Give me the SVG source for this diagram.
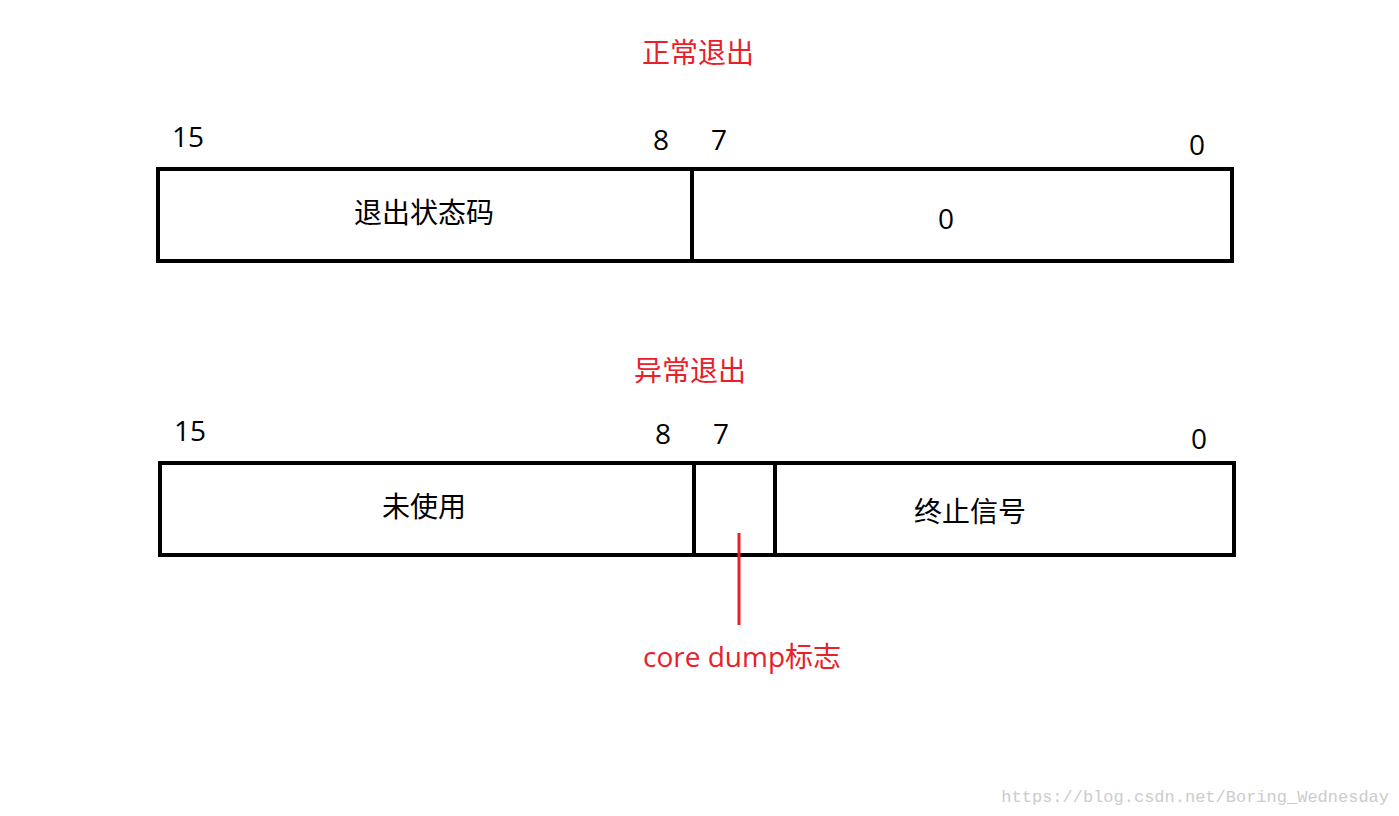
<svg xmlns="http://www.w3.org/2000/svg" width="1399" height="816" viewBox="0 0 1399 816">
<style>
.box{fill:none;stroke:#000;stroke-width:4}
.t{font-family:"Open Sans","Noto Sans","Noto Sans CJK SC",sans-serif;font-size:28px;fill:#000}
.r{fill:#e8202a}
.c{text-anchor:middle}
</style>
<rect width="1399" height="816" fill="#fff"/>
<text class="t r c" x="698" y="63">正常退出</text>
<g id="top">
<rect class="box" x="158" y="169" width="1074" height="92"/>
<line class="box" x1="692" y1="169" x2="692" y2="261"/>
<text class="t" x="172" y="147">15</text>
<text class="t" x="653" y="150">8</text>
<text class="t" x="711" y="150">7</text>
<text class="t" x="1189" y="155">0</text>
<text class="t c" x="424" y="223">退出状态码</text>
<text class="t c" x="946" y="229">0</text>
</g>
<text class="t r c" x="690" y="381">异常退出</text>
<g id="bottom">
<rect class="box" x="160" y="463" width="1074" height="92"/>
<line class="box" x1="694" y1="463" x2="694" y2="555"/>
<line class="box" x1="775" y1="463" x2="775" y2="555"/>
<text class="t" x="174" y="441">15</text>
<text class="t" x="655" y="444">8</text>
<text class="t" x="713" y="444">7</text>
<text class="t" x="1191" y="449">0</text>
<text class="t c" x="424" y="517">未使用</text>
<text class="t c" x="970" y="522">终止信号</text>
</g>
<g id="connectors">
<line x1="739" y1="533" x2="739" y2="625" stroke="#e8202a" stroke-width="3"/>
</g>
<text class="t r c" x="742" y="667">core dump标志</text>
<text x="1389" y="802" text-anchor="end" font-family="Liberation Mono,monospace" font-size="17" fill="#ccc">https://blog.csdn.net/Boring_Wednesday</text>
</svg>
